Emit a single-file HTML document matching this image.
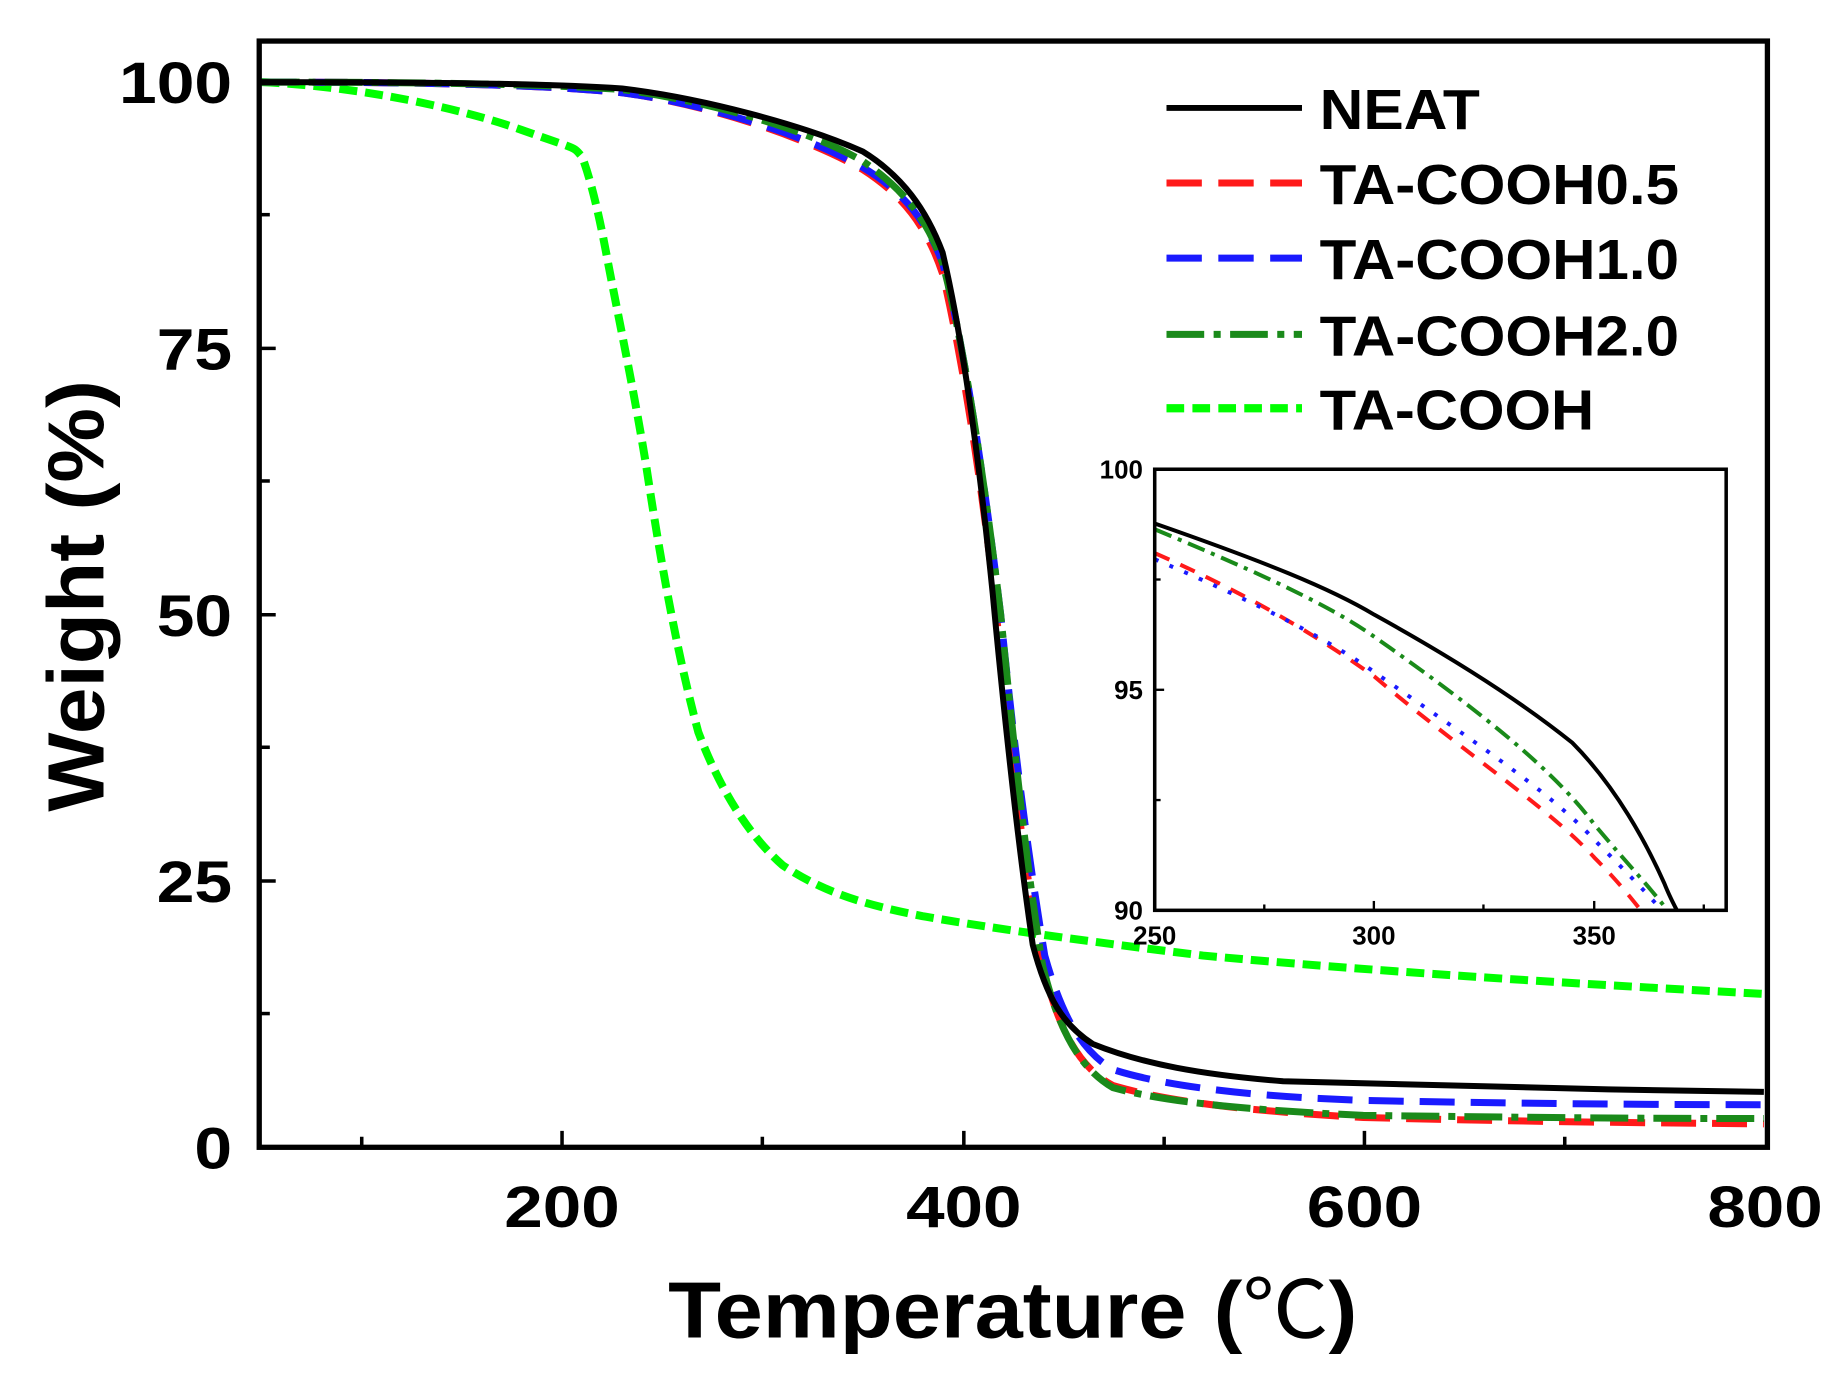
<!DOCTYPE html>
<html><head><meta charset="utf-8"><style>
html,body{margin:0;padding:0;background:#fff;}
svg{display:block;}
text{font-family:"Liberation Sans",Arial,sans-serif;font-weight:bold;fill:#000;}
</style></head><body>
<svg width="1844" height="1396" viewBox="0 0 1565 1190" preserveAspectRatio="none">
<defs>
<clipPath id="mc"><rect x="220" y="35" width="1280" height="943"/></clipPath>
<clipPath id="ic"><rect x="980" y="400" width="485" height="376"/></clipPath>
</defs>
<rect width="1565" height="1190" fill="#fff"/>
<g clip-path="url(#mc)" fill="none" stroke-linejoin="round" stroke-linecap="butt">
<g transform="matrix(1.7,0,0,-9.08,137,978)">
<path vector-effect="non-scaling-stroke" stroke="#00ff00" stroke-width="8" stroke-dasharray="18 8" d="M50,100 C100,99.6 150,97.5 180,95.5 S205,94 210,93 C214,91 218,88 222,84 C228,78 235,72 242,64 C250,54 258,46 268,39 C280,33 295,29 310,26.5 C330,24 350,22.8 380,21.7 C420,20.4 460,19.4 520,18 C600,16.6 700,15.4 800,14.4"/>
<path vector-effect="non-scaling-stroke" stroke="#ff1a1a" stroke-width="7" stroke-dasharray="35 16" d="M50,100 C150,100 200,99.6 230,99 C270,98 320,95 350,91.8 C370,89.4 382,86.5 390,82 C400,74 410,62 418,48 C425,35 432,25 440,17 C448,11 458,7.5 475,5.8 C500,4.4 540,3.4 600,2.8 C680,2.4 740,2.3 800,2.2"/>
<path vector-effect="non-scaling-stroke" stroke="#1a1aff" stroke-width="7" stroke-dasharray="35 16" d="M50,100 C150,100 200,99.6 230,99 C270,98 320,95.2 350,92 C370,89.8 382,87 390,83 C400,76 410,64 419,50 C426,37 433,27 441,18 C450,12 460,9 475,7.3 C500,5.8 540,4.8 600,4.4 C680,4.1 740,4 800,4"/>
<path vector-effect="non-scaling-stroke" stroke="#1a8a1a" stroke-width="7" stroke-dasharray="38 9 7 9" d="M50,100 C150,100 200,99.7 230,99.3 C270,98.3 320,95.8 350,92.6 C370,90 382,87.3 390,83 C400,76 410,64 419,50 C426,37 432,26 440,17 C448,11 458,7.5 475,5.6 C500,4.3 540,3.5 600,3 C680,2.8 740,2.7 800,2.7"/>
<path vector-effect="non-scaling-stroke" stroke="#000" stroke-width="6" d="M50,100 C150,100 200,99.8 230,99.4 C270,98.5 320,96 350,93.5 C370,91.2 382,88 390,84 C400,76 408,65 415,52 C422,38 428,28 435,19 C442,14 450,11.5 465,9.7 C490,7.8 520,6.8 560,6.2 C650,5.7 720,5.4 800,5.2"/>
</g>
</g>
<rect x="220" y="35" width="1280" height="943" fill="none" stroke="#000" stroke-width="4.5"/>
<g stroke="#000" stroke-width="3">
<line x1="477" y1="978" x2="477" y2="964"/><line x1="818" y1="978" x2="818" y2="964"/><line x1="1158" y1="978" x2="1158" y2="964"/>
<line x1="307" y1="978" x2="307" y2="969"/><line x1="647" y1="978" x2="647" y2="969"/><line x1="988" y1="978" x2="988" y2="969"/><line x1="1328" y1="978" x2="1328" y2="969"/>
<line x1="220" y1="70" x2="234" y2="70"/><line x1="220" y1="297" x2="234" y2="297"/><line x1="220" y1="524" x2="234" y2="524"/><line x1="220" y1="751" x2="234" y2="751"/>
<line x1="220" y1="183" x2="229" y2="183"/><line x1="220" y1="410" x2="229" y2="410"/><line x1="220" y1="637" x2="229" y2="637"/><line x1="220" y1="864" x2="229" y2="864"/>
</g>
<g font-size="50" text-anchor="end">
<text x="197" y="88" textLength="96" lengthAdjust="spacingAndGlyphs">100</text>
<text x="197" y="315" textLength="64" lengthAdjust="spacingAndGlyphs">75</text>
<text x="197" y="542" textLength="64" lengthAdjust="spacingAndGlyphs">50</text>
<text x="197" y="769" textLength="64" lengthAdjust="spacingAndGlyphs">25</text>
<text x="197" y="996" textLength="32" lengthAdjust="spacingAndGlyphs">0</text>
</g>
<g font-size="50" text-anchor="middle">
<text x="477" y="1046" textLength="98" lengthAdjust="spacingAndGlyphs">200</text>
<text x="818" y="1046" textLength="98" lengthAdjust="spacingAndGlyphs">400</text>
<text x="1158" y="1046" textLength="98" lengthAdjust="spacingAndGlyphs">600</text>
<text x="1498" y="1046" textLength="98" lengthAdjust="spacingAndGlyphs">800</text>
</g>
<text x="567" y="1140" font-size="68" textLength="440" lengthAdjust="spacingAndGlyphs">Temperature</text>
<text x="1030" y="1140" font-size="68" textLength="122" lengthAdjust="spacingAndGlyphs">(<tspan font-family="'Noto Sans CJK SC',sans-serif" font-weight="normal">℃</tspan>)</text>
<text transform="translate(88,508) rotate(-90)" font-size="68" text-anchor="middle" textLength="368" lengthAdjust="spacingAndGlyphs">Weight (%)</text>
<g fill="none">
<line x1="990" y1="92" x2="1105" y2="92" stroke="#000" stroke-width="5"/>
<line x1="990" y1="156" x2="1105" y2="156" stroke="#ff1a1a" stroke-width="6" stroke-dasharray="30 14"/>
<line x1="990" y1="220" x2="1105" y2="220" stroke="#1a1aff" stroke-width="6" stroke-dasharray="30 14"/>
<line x1="990" y1="285" x2="1105" y2="285" stroke="#1a8a1a" stroke-width="6" stroke-dasharray="32 8 6 8"/>
<line x1="990" y1="348" x2="1105" y2="348" stroke="#00ff00" stroke-width="7" stroke-dasharray="15 7"/>
</g>
<g font-size="48">
<text x="1120" y="110" textLength="136" lengthAdjust="spacingAndGlyphs">NEAT</text>
<text x="1120" y="174" textLength="305" lengthAdjust="spacingAndGlyphs">TA-COOH0.5</text>
<text x="1120" y="238" textLength="305" lengthAdjust="spacingAndGlyphs">TA-COOH1.0</text>
<text x="1120" y="303" textLength="305" lengthAdjust="spacingAndGlyphs">TA-COOH2.0</text>
<text x="1120" y="366" textLength="233" lengthAdjust="spacingAndGlyphs">TA-COOH</text>
</g>
<rect x="980" y="400" width="485" height="376" fill="#fff" stroke="none"/>
<g clip-path="url(#ic)" fill="none" stroke-linejoin="round">
<g transform="matrix(3.73,0,0,-37.6,47.5,4160)">
<path vector-effect="non-scaling-stroke" stroke="#ff1a1a" stroke-width="4" stroke-dasharray="16 12" d="M250,98.1 C275,97 290,96 300,95.3 C320,93.6 340,92.3 350,91.2 C356,90.6 359,90.2 363,89.7"/>
<path vector-effect="non-scaling-stroke" stroke="#1a1aff" stroke-width="4" stroke-dasharray="4 12" d="M250,97.96 C275,96.9 290,96.1 300,95.4 C320,94 340,92.7 350,91.6 C358,90.8 362,90.4 368,89.7"/>
<path vector-effect="non-scaling-stroke" stroke="#1a8a1a" stroke-width="4" stroke-dasharray="18 7 4 7" d="M250,98.64 C275,97.6 290,96.9 300,96.2 C320,94.8 340,93.3 350,91.95 C358,91 363,90.5 369,89.7"/>
<path vector-effect="non-scaling-stroke" stroke="#000" stroke-width="4" d="M250,98.77 C275,97.9 290,97.3 300,96.7 C320,95.6 335,94.6 345,93.8 C355,92.8 362,91.5 366,90.6 C368,90.1 370,89.8 371,89.6"/>
</g>
</g>
<rect x="980" y="400" width="485" height="376" fill="none" stroke="#000" stroke-width="3"/>
<g stroke="#000" stroke-width="2">
<line x1="1166" y1="776" x2="1166" y2="768"/><line x1="1353" y1="776" x2="1353" y2="768"/>
<line x1="1073" y1="776" x2="1073" y2="771"/><line x1="1259" y1="776" x2="1259" y2="771"/><line x1="1446" y1="776" x2="1446" y2="771"/>
<line x1="980" y1="588" x2="988" y2="588"/><line x1="980" y1="494" x2="985" y2="494"/><line x1="980" y1="682" x2="985" y2="682"/>
</g>
<g font-size="22" text-anchor="end">
<text x="970" y="408">100</text><text x="970" y="596">95</text><text x="970" y="784">90</text>
</g>
<g font-size="22" text-anchor="middle">
<text x="980" y="805">250</text><text x="1166" y="805">300</text><text x="1353" y="805">350</text>
</g>
</svg>
</body></html>
